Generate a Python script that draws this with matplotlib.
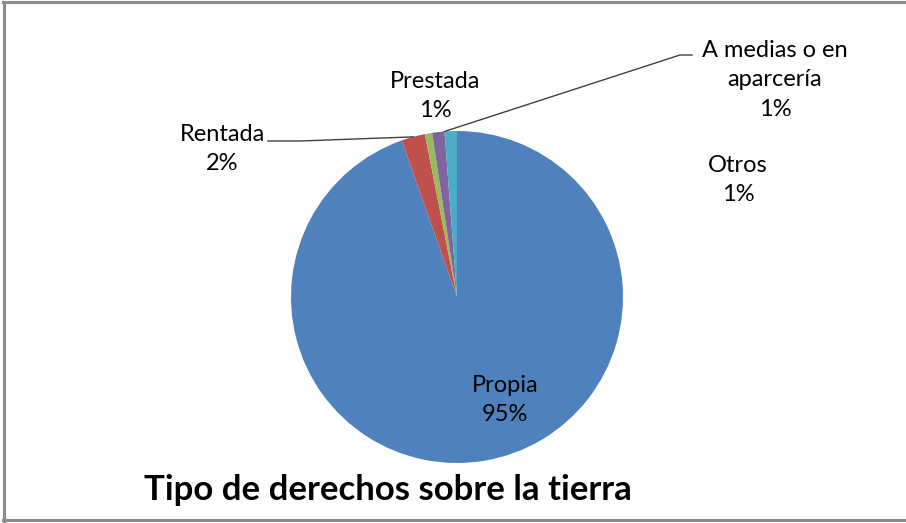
import numpy as np
import matplotlib.pyplot as plt
from matplotlib.lines import Line2D

# tipo de derechos sobre la tierra (%)
categorias = ['Propia', 'Rentada', 'Prestada', 'A medias o en\naparcería', 'Otros']
valores = [94.6, 2.3, 0.7, 1.2, 1.2]
colores = ['#4F81BD', '#C0504D', '#9BBB59', '#8064A2', '#4BACC6']

W, H = 906, 523
plt.rcParams['font.family'] = ['Lato', 'DejaVu Sans']

fig = plt.figure(figsize=(W / 100, H / 100), dpi=100)
ax = fig.add_axes([0, 0, 1, 1])

cx, cy, r = 457, H - 297, 166
wedges, _ = ax.pie(valores, colors=colores, startangle=90, counterclock=False,
                   center=(cx, cy), radius=r, wedgeprops=dict(linewidth=0))
ax.set_xlim(0, W)
ax.set_ylim(0, H)
ax.set_aspect('equal')
ax.axis('off')


def px(x, y):
    return x, H - y


def borde(w, frac=0.5):
    a = np.deg2rad(w.theta1 + (w.theta2 - w.theta1) * frac)
    return cx + r * np.cos(a), cy + r * np.sin(a)


# posiciones de las etiquetas (pixeles)
pos = [(505, 400), (222, 149), (435, 96), (775, 80), (738, 180)]
for nombre, v, (x, y) in zip(categorias, valores, pos):
    ax.text(*px(x, y), f'{nombre}\n{v:.0f}%', ha='center', va='center',
            fontsize=17, linespacing=1.5, color='black')

# lineas guia
x1, y1 = borde(wedges[1])
ax.plot([268, 300, x1], [H - 141, H - 141, y1], color='#404040', lw=1)
x3, y3 = borde(wedges[3], 0.0)
ax.plot([x3, 680, 692], [y3, H - 55, H - 55], color='#404040', lw=1)

fig.text(388 / W, 1 - 490 / H, 'Tipo de derechos sobre la tierra', ha='center',
         va='center', fontsize=25, fontweight='bold')

# marco del grafico (izquierda, arriba, abajo)
for xs, ys in [([4, 4], [2, H - 2]), ([3, W], [H - 2, H - 2]), ([3, W], [3, 3])]:
    fig.lines.append(Line2D(np.array(xs) / W, np.array(ys) / H, transform=fig.transFigure,
                            color='#8C8C8C', lw=2.2))

fig.savefig('out.png', dpi=100)
